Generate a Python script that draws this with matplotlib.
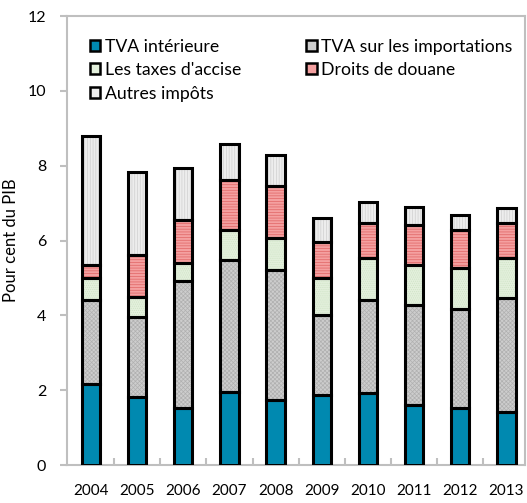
import matplotlib
matplotlib.use("Agg")
import matplotlib.pyplot as plt
from matplotlib.patches import Patch
import numpy as np

plt.rcParams['font.family'] = ['Lato', 'DejaVu Sans']
plt.rcParams['hatch.linewidth'] = 0.5

years = ['2004', '2005', '2006', '2007', '2008', '2009', '2010', '2011', '2012', '2013']
tva_interieure = [2.16, 1.83, 1.52, 1.96, 1.74, 1.87, 1.92, 1.60, 1.52, 1.43]
tva_importations = [2.25, 2.14, 3.40, 3.52, 3.47, 2.14, 2.49, 2.68, 2.64, 3.03]
taxes_accise = [0.58, 0.53, 0.47, 0.80, 0.85, 0.98, 1.12, 1.07, 1.10, 1.07]
droits_douane = [0.36, 1.11, 1.16, 1.34, 1.40, 0.98, 0.93, 1.07, 1.02, 0.93]
autres_impots = [3.45, 2.23, 1.38, 0.96, 0.83, 0.63, 0.58, 0.49, 0.40, 0.40]

labels = ['TVA intérieure', 'TVA sur les importations', "Les taxes d'accise",
          'Droits de douane', 'Autres impôts']
series = [tva_interieure, tva_importations, taxes_accise, droits_douane, autres_impots]
faces = ['#0089B0', '#CDCDCD', '#E3F0DC', '#F4A0A0', '#EDEDED']
hatch_cols = ['#0089B0', '#B0B0B0', '#CFE3C6', '#E06464', '#CFCFCF']
hatches = [None, 'xxxxxxxx', '........', '------', '||||||']

fig = plt.figure(figsize=(5.27, 5.03), dpi=100)
ax = fig.add_axes([0.127, 0.0755, 0.869, 0.8925])

x = np.arange(len(years))
w = 0.4
bottom = np.zeros(len(years))
for vals, fc, hc, h in zip(series, faces, hatch_cols, hatches):
    vals = np.array(vals)
    ax.bar(x, vals, w, bottom=bottom, color=fc, edgecolor=hc, hatch=h, linewidth=0, zorder=2)
    ax.bar(x, vals, w, bottom=bottom, facecolor='none', edgecolor='black', linewidth=2.2, zorder=3)
    bottom += vals

# dark base marks under bars
ax.bar(x, np.zeros(len(years)), w, bottom=-0.02, facecolor='none', edgecolor='#404040', linewidth=2, zorder=1)

ax.set_xlim(-0.52, 9.4)
ax.set_ylim(0, 12)
ax.set_yticks(range(0, 13, 2))
ax.set_xticks(x)
ax.set_xticklabels(years, fontsize=11)
ax.set_xticks(x[:-1] + 0.5, minor=True)
ax.tick_params(axis='x', which='major', length=0, pad=14)
ax.tick_params(axis='x', which='minor', length=5, direction='in', color='#BFBFBF', width=1.5)
ax.tick_params(axis='y', length=5, direction='out', color='#BFBFBF', width=1.5, labelsize=11.5, pad=10)
for s in ax.spines.values():
    s.set_color('#BFBFBF')
    s.set_linewidth(1.5)
ax.set_ylabel('Pour cent du PIB', fontsize=12, labelpad=6)

handles = [Patch(facecolor=fc, edgecolor='black', linewidth=1.8) for fc in faces]
order = [0, 2, 4, 1, 3]
leg = ax.legend([handles[i] for i in order], [labels[i] for i in order], ncol=2,
                loc='upper left', bbox_to_anchor=(0.015, 0.985),
                frameon=False, fontsize=12.7, handlelength=0.6, handleheight=0.6,
                handletextpad=0.25, columnspacing=3.7, labelspacing=0.42, borderaxespad=0.5)

fig.savefig('out.png', dpi=100)
